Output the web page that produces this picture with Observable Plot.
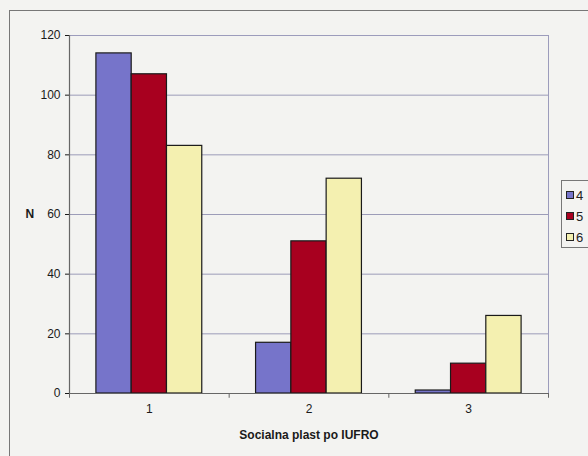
<!DOCTYPE html>
<html>
<head>
<meta charset="utf-8">
<script src="https://cdn.jsdelivr.net/npm/d3@7"></script>
<script src="https://cdn.jsdelivr.net/npm/@observablehq/plot@0.6"></script>
<style>
  html, body { margin: 0; padding: 0; background: #f3f3f1; }
  #wrap { position: relative; width: 588px; height: 456px; overflow: hidden; background: #f3f3f1; font-family: Arial, "Liberation Sans", sans-serif; }
  #border { position: absolute; left: 9px; top: 10px; width: 700px; height: 600px; border-left: 1px solid #777; border-top: 1px solid #777; }
  #chart { position: absolute; left: 0; top: 0; }
  #chart svg text { font-size: 12px; }
  #legend { position: absolute; left: 561px; top: 180px; width: 60px; height: 66px; border: 1px solid #777; background: #f3f3f1; }
  .item { position: absolute; left: 4px; font-size: 13px; color: #222; line-height: 13px; }
  .sw { display: inline-block; width: 6px; height: 6px; border: 1px solid #222; margin-right: 2px; vertical-align: 1px; }
</style>
</head>
<body>
<div id="wrap">
  <div id="border"></div>
  <div id="chart"></div>
  <div id="legend"></div>
</div>
<script>
const groups = [1, 2, 3];
const series = ["4", "5", "6"];
const values4 = [114, 17, 1];
const values5 = [107, 51, 10];
const values6 = [83, 72, 26];
const colors = ["#7674ca", "#a8001f", "#f4f0b0"];
const yTicks = [0, 20, 40, 60, 80, 100, 120];
const xTitle = "Socialna plast po IUFRO";
const yTitle = "N";

const seriesValues = [values4, values5, values6];
const barFrac = 0.221; // width of one bar as a fraction of a group's band
const data = [];
groups.forEach((g, gi) => {
  series.forEach((s, si) => {
    const x1 = g + (si - series.length / 2) * barFrac;
    data.push({group: g, series: s, value: seriesValues[si][gi], x1, x2: x1 + barFrac});
  });
});
const boundaries = [groups[0] - 0.5, ...groups.map(g => g + 0.5)];

const plot = Plot.plot({
  width: 588,
  height: 456,
  marginLeft: 69,
  marginRight: 40,
  marginTop: 35,
  marginBottom: 63,
  style: {background: "transparent", fontFamily: "Arial, 'Liberation Sans', sans-serif", fontSize: "12px", color: "#1a1a1a"},
  x: {domain: [boundaries[0], boundaries[boundaries.length - 1]], ticks: groups, tickSize: 0, tickPadding: 11, tickFormat: d => String(d), label: null},
  y: {domain: [0, 120], ticks: yTicks, tickSize: 4, tickPadding: 5, label: null},
  color: {domain: series, range: colors},
  marks: [
    Plot.gridY(yTicks, {stroke: "#9c9cb8", strokeOpacity: 1}),
    Plot.frame({stroke: "#9c9cbc"}),
    Plot.rectY(data, {x1: "x1", x2: "x2", y: "value", fill: "series", stroke: "#1a1a1a", strokeWidth: 1.2}),
    Plot.ruleX([boundaries[0]], {stroke: "#666", strokeWidth: 1.2}),
    Plot.ruleY([0], {stroke: "#666", strokeWidth: 1.2}),
    Plot.ruleX(boundaries, {y1: 0, y2: -1.6, stroke: "#666"}),
    Plot.text([yTitle], {frameAnchor: "left", dx: -44, fontWeight: "bold", fontSize: 12, fill: "#1a1a1a"}),
    Plot.text([xTitle], {frameAnchor: "bottom", dy: 45, fontWeight: "bold", fontSize: 12, fill: "#1a1a1a"})
  ]
});
document.getElementById("chart").appendChild(plot);

const legend = document.getElementById("legend");
series.forEach((s, i) => {
  const d = document.createElement("div");
  d.className = "item";
  d.style.top = (8 + i * 21) + "px";
  d.innerHTML = `<span class="sw" style="background:${colors[i]}"></span>${s}`;
  legend.appendChild(d);
});
</script>
</body>
</html>
